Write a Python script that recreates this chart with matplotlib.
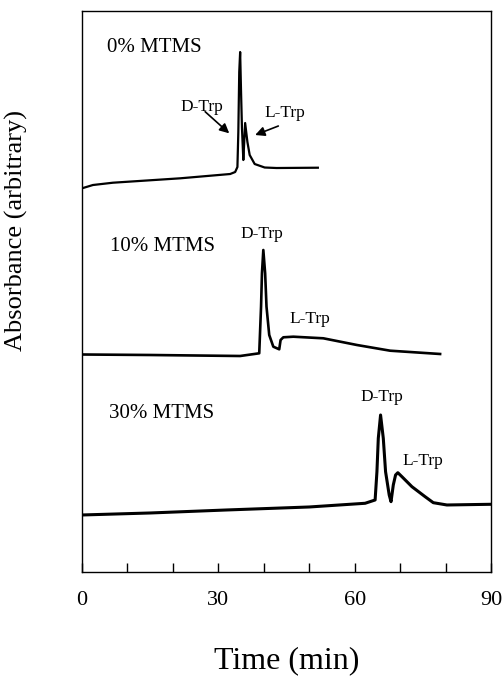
import matplotlib
matplotlib.use("Agg")
import matplotlib.pyplot as plt
import numpy as np

plt.rcParams['font.family'] = 'serif'
plt.rcParams['font.serif'] = ['Liberation Serif', 'DejaVu Serif']

# ---------------------------------------------------------------- data ---- #
# time (min) and absorbance (arbitrary units, traces already offset)
t_0 = [0, 2.4, 6.8, 21.6, 32.6, 33.7, 34.2, 34.4, 34.6, 34.8, 35.0, 35.2,
       35.5, 35.7, 35.9, 36.4, 36.9, 38.0, 40.2, 42.8, 51.9]
a_0 = [383.7, 387, 389.3, 393.7, 398, 400, 405, 440, 500, 520, 480, 444,
       412, 430, 449, 430, 417, 408, 404.5, 404, 404.3]

t_10 = [0, 15, 34.8, 39.0, 39.4, 39.6, 39.9, 40.3, 40.6, 41.2, 42.1, 43.4,
        43.7, 44.3, 46.5, 53.1, 60.5, 67.8, 78.8]
a_10 = [217.5, 217, 216, 218.7, 265.3, 298.7, 322, 298.7, 265.3, 237,
        225.3, 222.7, 232, 234.7, 235.3, 233.7, 227, 221.3, 218]

t_30 = [0, 15, 31.8, 50, 62.3, 64.5, 64.9, 65.2, 65.7, 66.3, 66.8, 67.6,
        68.0, 68.5, 69.0, 69.5, 70.4, 72.6, 75.5, 77.3, 80.3, 90]
a_30 = [57, 59, 62, 65, 68.7, 72, 100.3, 133.7, 157, 133.7, 100.3, 77,
        70.3, 87, 97, 99.3, 95.3, 85.3, 75.3, 69.3, 67, 67.7]

series_labels = ['0% MTMS', '10% MTMS', '30% MTMS']
xticks_major = [0, 30, 60, 90]
xticks_minor = [10, 20, 40, 50, 70, 80]

# ---------------------------------------------------------------- plot ---- #
fig = plt.figure(figsize=(5.04, 6.85), dpi=100)
ax = fig.add_axes([0.1627, 0.1650, 0.8115, 0.8189])

ax.plot(t_0, a_0, color='k', lw=1.6, solid_joinstyle='round')
ax.plot(t_10, a_10, color='k', lw=1.9, solid_joinstyle='round')
ax.plot(t_30, a_30, color='k', lw=2.2, solid_joinstyle='round')

ax.set_xlim(0, 90)
ax.set_ylim(0, 561)

# trace labels
ax.text(5.5, 525, series_labels[0], fontsize=15, va='center', ha='left')
ax.text(6.2, 326, series_labels[1], fontsize=15, va='center', ha='left')
ax.text(6.0, 158, series_labels[2], fontsize=15, va='center', ha='left')

# peak labels
pk = dict(fontsize=12.5, va='center')
ax.text(21.6, 465, 'D-Trp', ha='left', **pk)
ax.text(40.1, 459, 'L-Trp', ha='left', **pk)
ax.text(39.5, 338, 'D-Trp', ha='center', **pk)
ax.text(50.2, 253, 'L-Trp', ha='center', **pk)
ax.text(66.0, 175, 'D-Trp', ha='center', **pk)
ax.text(75.1, 111, 'L-Trp', ha='center', **pk)

arrow = dict(arrowstyle='-|>', color='k', lw=1.2, mutation_scale=14,
             shrinkA=0, shrinkB=0)
ax.annotate('', xy=(32.4, 438.7), xytext=(27.1, 460.3), arrowprops=arrow)
ax.annotate('', xy=(38.1, 437), xytext=(43.2, 446), arrowprops=arrow)

# axes styling
ax.set_xticks(xticks_major)
ax.set_xticks(xticks_minor, minor=True)
ax.set_yticks([])
ax.tick_params(axis='x', which='both', direction='in', length=6.5,
               width=1.0, labelsize=16, pad=14)
for s in ax.spines.values():
    s.set_linewidth(1.0)

ax.set_xlabel('Time (min)', fontsize=23, labelpad=26)
ax.set_ylabel('Absorbance (arbitrary)', fontsize=19)
ax.yaxis.set_label_coords(-0.132, 0.608)

fig.savefig('out.png', dpi=100)
